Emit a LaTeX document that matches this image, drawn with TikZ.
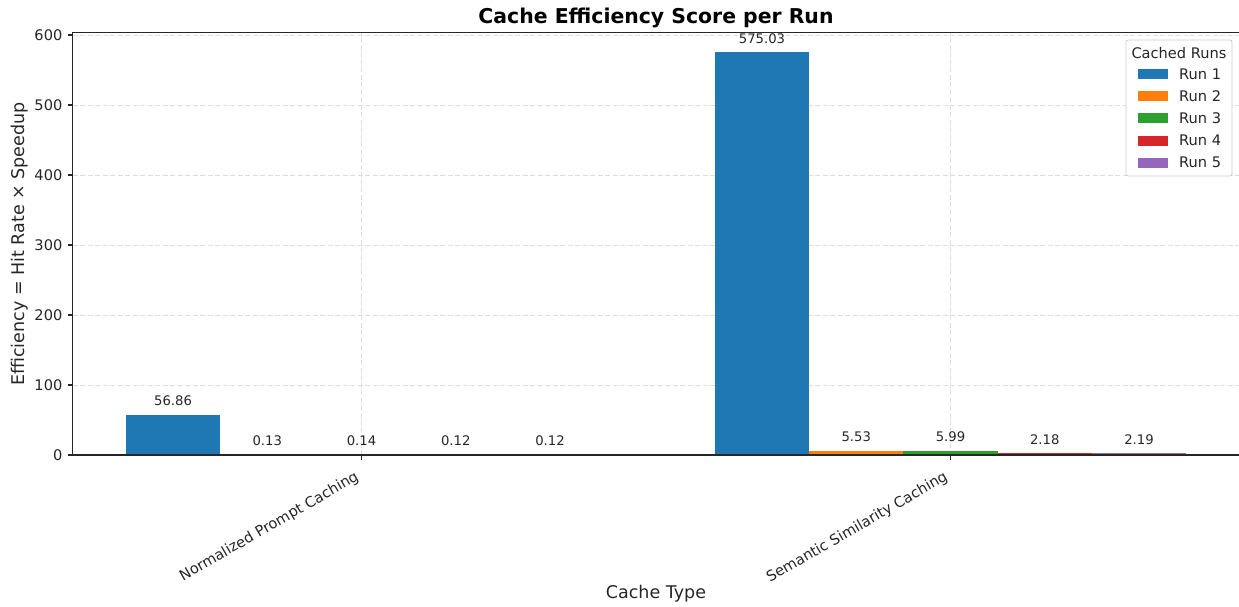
\documentclass[tikz,border=0pt]{standalone}
\usepackage{fontspec}
\setmainfont{DejaVu Sans}
\usepackage{tikz}
\usepackage{xcolor}

\definecolor{run1}{HTML}{1F77B4}
\definecolor{run2}{HTML}{FF7F0E}
\definecolor{run3}{HTML}{2CA02C}
\definecolor{run4}{HTML}{D62728}
\definecolor{run5}{HTML}{9467BD}

\tikzset{
  spine/.style={line width=1.1pt,draw=black!85},
  grid/.style={line width=0.8pt,draw=black!13,dash pattern=on 5pt off 2.5pt},
  ticklabel/.style={font=\fontsize{14.6}{17}\selectfont,text=black!85,inner sep=0},
  vallabel/.style={font=\fontsize{13.2}{15}\selectfont,text=black!85,inner sep=0,anchor=south,yshift=9pt},
  axlabel/.style={font=\fontsize{17.5}{20}\selectfont,text=black!85,inner sep=0},
}

\begin{document}
\begin{tikzpicture}[x=1pt,y=1pt]
  \useasboundingbox (0,0) rectangle (1239,606);
  \begin{scope}[shift={(361.5pt,151pt)},x=589pt,y=0.7pt]
    \foreach \y in {0,100,...,600} \draw[grid] (-0.49,\y) -- (1.49,\y);
    \foreach \x in {0,1} \draw[grid] (\x,0) -- (\x,603.8);
    \foreach \v [count=\r] in {56.86,0.13,0.14,0.12,0.12} {
      \fill[fill=run\r] ({(\r-3)*0.16-0.08},0) rectangle ++(0.16,\v);
      \node[vallabel] (va\r) at ({(\r-3)*0.16},\v) {\v};
    }
    \foreach \v [count=\r] in {575.03,5.53,5.99,2.18,2.19} {
      \fill[fill=run\r] ({1+(\r-3)*0.16-0.08},0) rectangle ++(0.16,\v);
      \node[vallabel] (vb\r) at ({1+(\r-3)*0.16},\v) {\v};
    }
    \draw[spine] (-0.49,0) rectangle (1.49,603.8);
    \foreach \y in {0,100,...,600}
      \draw[spine] (-0.49,\y) -- ++(-5pt,0) node[ticklabel,anchor=east,xshift=-5pt] (yt\y) {\y};
    \draw[spine] (0,0) -- ++(0,-5pt);
    \draw[spine] (1,0) -- ++(0,-5pt);
    \node[ticklabel,rotate=30,anchor=north east,xshift=-14pt,yshift=-9pt] (xt0) at (0,0) {Normalized Prompt Caching};
    \node[ticklabel,rotate=30,anchor=north east,xshift=-14pt,yshift=-9pt] (xt1) at (1,0) {Semantic Similarity Caching};
  \end{scope}

  \node[font=\fontsize{20.4}{23}\selectfont\bfseries,inner sep=0] (title) at (656,588) {Cache Efficiency Score per Run};
  \node[axlabel] (xlabel) at (656,12) {Cache Type};
  \node[axlabel,rotate=90] (ylabel) at (20,362) {Efficiency = Hit Rate × Speedup};

  \draw[draw=black!20,fill=white,rounded corners=2pt,line width=0.8pt] (1126,430) rectangle (1232,566);
  \node[ticklabel] (lgtitle) at (1179,553.3) {Cached Runs};
  \foreach \r in {1,...,5} {
    \fill[fill=run\r] (1138,{531.7-(\r-1)*22.1-5}) rectangle ++(30,10);
    \node[ticklabel,anchor=west] (lg\r) at (1179,{531.7-(\r-1)*22.1}) {Run \r};
  }
\end{tikzpicture}
\end{document}
